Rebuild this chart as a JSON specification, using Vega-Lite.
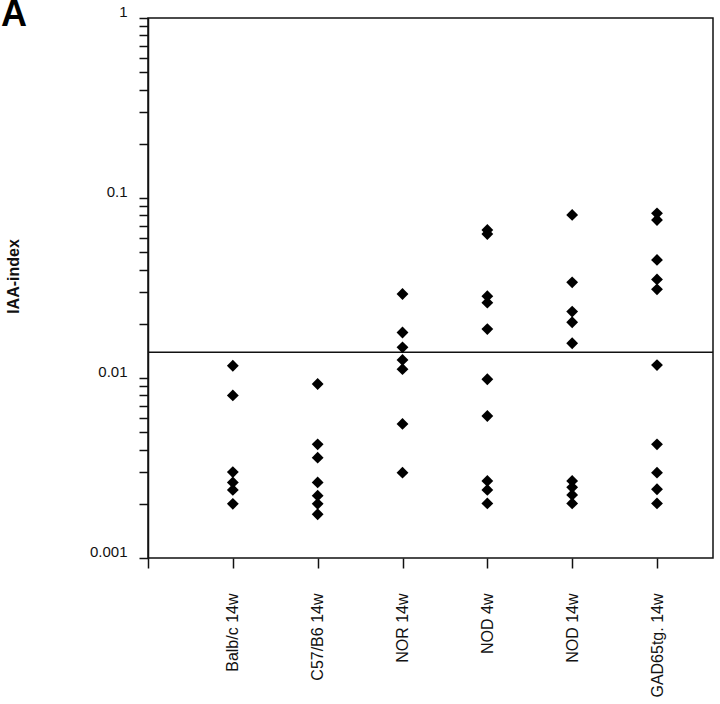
{
  "$schema": "https://vega.github.io/schema/vega-lite/v6.json",
  "autosize": "none",
  "width": 565,
  "height": 540,
  "padding": {"left": 148, "top": 18, "right": 7, "bottom": 146},
  "background": "white",
  "config": {
    "font": "Liberation Sans",
    "view": {"stroke": "#111", "strokeWidth": 1.5},
    "axis": {"grid": false, "domainColor": "#111", "tickColor": "#111", "labelColor": "#111", "titleColor": "#111"}
  },
  "title": {"text": "A", "anchor": "start", "frame": "group", "fontSize": 36, "fontWeight": "bold", "font": "Liberation Sans", "color": "#000", "offset": -30, "baseline": "top", "dx": -147},
  "datasets": {
    "points": [
      {"group": "Balb/c 14w", "iaa": 0.0117},
      {"group": "Balb/c 14w", "iaa": 0.0080},
      {"group": "Balb/c 14w", "iaa": 0.0030},
      {"group": "Balb/c 14w", "iaa": 0.00263},
      {"group": "Balb/c 14w", "iaa": 0.00239},
      {"group": "Balb/c 14w", "iaa": 0.0020},
      {"group": "C57/B6 14w", "iaa": 0.00926},
      {"group": "C57/B6 14w", "iaa": 0.00428},
      {"group": "C57/B6 14w", "iaa": 0.00361},
      {"group": "C57/B6 14w", "iaa": 0.00263},
      {"group": "C57/B6 14w", "iaa": 0.00222},
      {"group": "C57/B6 14w", "iaa": 0.0020},
      {"group": "C57/B6 14w", "iaa": 0.00175},
      {"group": "NOR 14w", "iaa": 0.0293},
      {"group": "NOR 14w", "iaa": 0.0179},
      {"group": "NOR 14w", "iaa": 0.0148},
      {"group": "NOR 14w", "iaa": 0.0126},
      {"group": "NOR 14w", "iaa": 0.0112},
      {"group": "NOR 14w", "iaa": 0.00556},
      {"group": "NOR 14w", "iaa": 0.00298},
      {"group": "NOD 4w", "iaa": 0.0664},
      {"group": "NOD 4w", "iaa": 0.0631},
      {"group": "NOD 4w", "iaa": 0.0285},
      {"group": "NOD 4w", "iaa": 0.0262},
      {"group": "NOD 4w", "iaa": 0.0187},
      {"group": "NOD 4w", "iaa": 0.00984},
      {"group": "NOD 4w", "iaa": 0.00615},
      {"group": "NOD 4w", "iaa": 0.00268},
      {"group": "NOD 4w", "iaa": 0.00239},
      {"group": "NOD 4w", "iaa": 0.00201},
      {"group": "NOD 14w", "iaa": 0.0805},
      {"group": "NOD 14w", "iaa": 0.0340},
      {"group": "NOD 14w", "iaa": 0.0234},
      {"group": "NOD 14w", "iaa": 0.0204},
      {"group": "NOD 14w", "iaa": 0.0156},
      {"group": "NOD 14w", "iaa": 0.00268},
      {"group": "NOD 14w", "iaa": 0.00247},
      {"group": "NOD 14w", "iaa": 0.00224},
      {"group": "NOD 14w", "iaa": 0.00201},
      {"group": "GAD65tg. 14w", "iaa": 0.0822},
      {"group": "GAD65tg. 14w", "iaa": 0.0755},
      {"group": "GAD65tg. 14w", "iaa": 0.0453},
      {"group": "GAD65tg. 14w", "iaa": 0.0353},
      {"group": "GAD65tg. 14w", "iaa": 0.0311},
      {"group": "GAD65tg. 14w", "iaa": 0.0118},
      {"group": "GAD65tg. 14w", "iaa": 0.00428},
      {"group": "GAD65tg. 14w", "iaa": 0.00298},
      {"group": "GAD65tg. 14w", "iaa": 0.00241},
      {"group": "GAD65tg. 14w", "iaa": 0.00201}
    ],
    "cutoff": [{"iaa": 0.0139}]
  },
  "layer": [
    {
      "data": {"name": "cutoff"},
      "mark": {"type": "rule", "color": "#111", "strokeWidth": 1.5},
      "encoding": {
        "y": {"field": "iaa", "type": "quantitative", "scale": {"type": "log", "domain": [0.001, 1]}}
      }
    },
    {
      "data": {"name": "points"},
      "mark": {"type": "point", "shape": "diamond", "filled": true, "color": "#000", "size": 140, "opacity": 1},
      "encoding": {
        "x": {
          "field": "group", "type": "nominal",
          "scale": {"type": "point", "domain": ["", "Balb/c 14w", "C57/B6 14w", "NOR 14w", "NOD 4w", "NOD 14w", "GAD65tg. 14w"], "range": [0, 509], "padding": 0},
          "axis": {"title": null, "domain": false, "labelAngle": -90, "labelAlign": "right", "labelBaseline": "middle", "labelFontSize": 16, "labelPadding": 25, "tickSize": 10, "tickWidth": 1.5, "labelFont": "Liberation Sans"}
        },
        "y": {
          "field": "iaa", "type": "quantitative",
          "scale": {"type": "log", "domain": [0.001, 1]},
          "axis": {
            "title": "IAA-index", "titleFontSize": 16, "titleFontWeight": "bold", "titleFont": "Liberation Sans",
            "titleAngle": -90, "titleAlign": "center", "titleBaseline": "middle", "titleX": -135, "titleY": 258,
            "domainWidth": 1.5, "tickSize": 9, "tickWidth": 1.5,
            "values": [0.001, 0.002, 0.003, 0.004, 0.005, 0.006, 0.007, 0.008, 0.009, 0.01, 0.02, 0.03, 0.04, 0.05, 0.06, 0.07, 0.08, 0.09, 0.1, 0.2, 0.3, 0.4, 0.5, 0.6, 0.7, 0.8, 0.9, 1],
            "labelExpr": "datum.value == 1 ? '1' : datum.value == 0.1 ? '0.1\u00a0' : datum.value == 0.01 ? '0.01\u00a0\u00a0' : datum.value == 0.001 ? '0.001\u00a0\u00a0\u00a0' : ''",
            "labelFontSize": 15, "labelPadding": 12, "labelOffset": -7, "labelBaseline": "middle", "labelFont": "Liberation Sans", "labelOverlap": false
          }
        }
      }
    }
  ]
}
